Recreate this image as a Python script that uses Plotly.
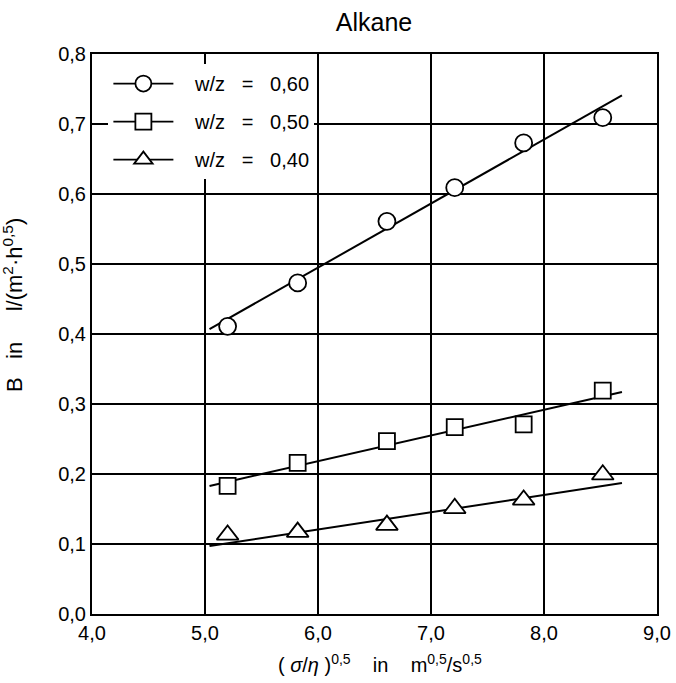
import plotly.graph_objects as go

# ---- data ----
x_points = [5.2, 5.82, 6.61, 7.21, 7.82, 8.52]
b_060 = [0.411, 0.473, 0.561, 0.609, 0.673, 0.709]
b_050 = [0.183, 0.216, 0.247, 0.267, 0.271, 0.319]
b_040 = [0.113, 0.117, 0.127, 0.151, 0.163, 0.199]

fit_x = [5.04, 8.69]
fit_060 = [0.407, 0.741]
fit_050 = [0.183, 0.317]
fit_040 = [0.097, 0.187]

NB = "\u00a0"
names = [f"w/z{NB*3}={NB*3}0,60", f"w/z{NB*3}={NB*3}0,50", f"w/z{NB*3}={NB*3}0,40"]

x_ticks = [4, 5, 6, 7, 8, 9]
y_ticks = [0.0, 0.1, 0.2, 0.3, 0.4, 0.5, 0.6, 0.7, 0.8]

FONT = "Liberation Sans, Arial, sans-serif"
FS = 20

fig = go.Figure()

series = [(b_060, fit_060, "circle", 17), (b_050, fit_050, "square", 16), (b_040, fit_040, "triangle-up", 19)]
for i, (vals, fit, sym, sz) in enumerate(series):
    fig.add_trace(go.Scatter(x=fit_x, y=fit, mode="lines",
                             line=dict(color="black", width=2),
                             showlegend=False, hoverinfo="skip"))
    fig.add_trace(go.Scatter(x=x_points, y=vals, mode="markers",
                             marker=dict(symbol=sym, size=sz, color="white",
                                         line=dict(color="black", width=1.8)),
                             showlegend=False))
    fig.add_trace(go.Scatter(x=[None], y=[None], mode="lines+markers", name=NB * 3 + names[i],
                             legendgroup=f"g{i}",
                             line=dict(color="black", width=1.8),
                             marker=dict(symbol=sym, size=sz, color="white",
                                         line=dict(color="black", width=1.8))))

fig.update_layout(
    width=676, height=683,
    paper_bgcolor="white", plot_bgcolor="white",
    margin=dict(l=92, r=19, t=54, b=69, autoexpand=False),
    separators=",.",
    font=dict(family=FONT, color="black", size=FS),
    title=dict(text="Alkane", x=374 / 676, xanchor="center", y=1 - 22 / 683, yanchor="middle",
               font=dict(size=25, family=FONT, color="black")),
    showlegend=True,
    legend=dict(x=0.029, y=0.982, xanchor="left", yanchor="top",
                bgcolor="white", borderwidth=0,
                font=dict(size=FS, family=FONT, color="black"),
                tracegroupgap=9, itemwidth=60),
    annotations=[
        dict(text=f"( <i>σ</i>/<i>η</i> )<sup>0,5</sup>{NB*4}in{NB*4}m<sup>0,5</sup>/s<sup>0,5</sup>",
             xref="paper", yref="paper", x=(380 - 92) / 565, y=-(663 - 614) / 560,
             xanchor="center", yanchor="middle", showarrow=False,
             font=dict(size=FS, family=FONT, color="black")),
        dict(text=f"B{NB*3}in{NB*5}l/(m<sup>2</sup>·h<sup>0,5</sup>)",
             xref="paper", yref="paper", x=-(92 - 13) / 565, y=(614 - 305) / 560,
             xanchor="center", yanchor="middle", showarrow=False, textangle=-90,
             font=dict(size=22, family=FONT, color="black")),
    ],
)

fig.update_xaxes(range=[4, 9], tickvals=x_ticks, tickformat=".1f", automargin=False,
                 showgrid=True, gridcolor="black", gridwidth=1.5,
                 showline=True, linecolor="black", linewidth=2, mirror=True,
                 ticks="", zeroline=False, tickfont=dict(size=FS))
fig.update_yaxes(range=[0, 0.8], tickvals=y_ticks, tickformat=".1f", automargin=False,
                 showgrid=True, gridcolor="black", gridwidth=1.5,
                 showline=True, linecolor="black", linewidth=2, mirror=True,
                 ticks="", zeroline=False, tickfont=dict(size=FS))

fig.write_html("out.html", config={"displayModeBar": False},
               post_script="document.body.style.margin='0';")
